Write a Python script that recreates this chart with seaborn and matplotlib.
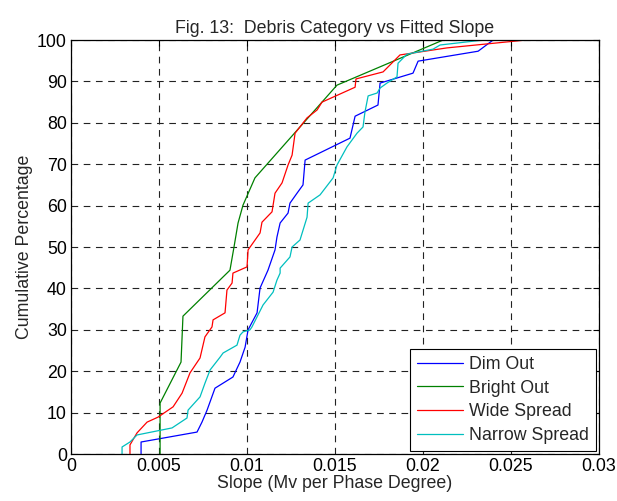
import pandas as pd
import seaborn as sns
import matplotlib
matplotlib.use('Agg')
import matplotlib.pyplot as plt

# curves (slope, cumulative %)
dim_x = [0.00398, 0.00398, 0.00716, 0.00744, 0.00773, 0.00818, 0.00920, 0.00960, 0.00989, 0.01006,
         0.01057, 0.01074, 0.01119, 0.01159, 0.01170, 0.01188, 0.01233, 0.01244, 0.01284, 0.01318,
         0.01330, 0.01585, 0.01614, 0.01744, 0.01756, 0.01943, 0.01972, 0.02313, 0.02398]
dim_y = [0, 2.9, 5.3, 7.7, 10.6, 15.9, 18.6, 22.2, 25.8, 30.0,
         34.1, 40.1, 44.4, 49.3, 52.4, 55.8, 58.2, 60.6, 63.0, 65.0,
         71.0, 76.3, 81.6, 84.3, 89.6, 92.0, 94.9, 97.3, 100]

bright_x = [0.00506, 0.00506, 0.00625, 0.00636, 0.00903, 0.00926, 0.00949, 0.00977, 0.01045, 0.01511, 0.02114]
bright_y = [0, 12.3, 22.2, 33.3, 44.4, 50.0, 55.8, 60.1, 66.7, 89.1, 100]

wide_x = [0.00335, 0.00335, 0.00375, 0.00432, 0.00494, 0.00580, 0.00631, 0.00676, 0.00733, 0.00761,
          0.00801, 0.00807, 0.00875, 0.00886, 0.00915, 0.00920, 0.01000, 0.01006, 0.01074, 0.01085,
          0.01142, 0.01159, 0.01199, 0.01233, 0.01256, 0.01273, 0.01341, 0.01398, 0.01426, 0.01614,
          0.01619, 0.01773, 0.01869, 0.02136, 0.02585]
wide_y = [0, 2.2, 5.1, 7.7, 8.9, 11.4, 14.7, 19.6, 23.2, 28.3,
          30.7, 32.4, 34.1, 39.6, 41.3, 43.7, 45.2, 49.3, 53.4, 56.0,
          58.5, 63.0, 65.5, 69.8, 72.2, 77.5, 81.2, 83.1, 85.0, 88.6,
          90.6, 92.3, 96.4, 98.1, 100]

narrow_x = [0.00290, 0.00290, 0.00335, 0.00375, 0.00574, 0.00659, 0.00665, 0.00733, 0.00761, 0.00790,
            0.00847, 0.00864, 0.00943, 0.00960, 0.00977, 0.01017, 0.01028, 0.01091, 0.01148, 0.01170,
            0.01188, 0.01188, 0.01244, 0.01256, 0.01301, 0.01341, 0.01347, 0.01415, 0.01489, 0.01511,
            0.01568, 0.01625, 0.01659, 0.01670, 0.01688, 0.01739, 0.01756, 0.01795, 0.01852, 0.01858,
            0.01909, 0.02057, 0.02097, 0.02341]
narrow_y = [0, 1.7, 2.9, 4.6, 6.3, 8.7, 10.6, 13.8, 17.1, 20.3,
            23.4, 24.4, 26.3, 28.7, 29.5, 30.0, 30.7, 36.0, 39.1, 42.0,
            43.7, 44.9, 47.6, 50.0, 51.7, 57.2, 60.6, 62.6, 66.7, 69.8,
            74.2, 77.5, 79.0, 82.6, 86.5, 87.2, 88.4, 89.6, 91.1, 94.4,
            96.6, 97.8, 98.8, 100]

categories = ['Dim Out', 'Bright Out', 'Wide Spread', 'Narrow Spread']
colors = ['#0000ff', '#008000', '#ff0000', '#00bfbf']

frames = []
for name, xs, ys in zip(categories, [dim_x, bright_x, wide_x, narrow_x], [dim_y, bright_y, wide_y, narrow_y]):
    frames.append(pd.DataFrame({'slope': xs, 'pct': ys, 'category': name}))
df = pd.concat(frames, ignore_index=True)

sns.set_style('white')
plt.rcParams['font.family'] = ['Liberation Sans', 'DejaVu Sans']
fs = 12.8

fig = plt.figure(figsize=(6.17, 5.01), dpi=100)
ax = fig.add_axes([0.1151, 0.0938, 0.8558, 0.8263])

sns.lineplot(data=df, x='slope', y='pct', hue='category', hue_order=categories,
             palette=colors, sort=False, estimator=None, units='category',
             linewidth=0.9, ax=ax)

ax.set_xlim(0, 0.03)
ax.set_ylim(0, 100)
ax.set_xticks([0, 0.005, 0.01, 0.015, 0.02, 0.025, 0.03])
ax.set_xticklabels(['0', '0.005', '0.01', '0.015', '0.02', '0.025', '0.03'])
ax.set_yticks(range(0, 101, 10))
ax.grid(True, color='#222222', linestyle=(0, (6, 5)), linewidth=0.8)
ax.tick_params(direction='in', top=True, right=True, length=4, width=0.8,
               labelsize=fs, colors='black', pad=3)
for s in ax.spines.values():
    s.set_color('black')
    s.set_linewidth(0.9)

ax.set_title('Fig. 13:  Debris Category vs Fitted Slope', fontsize=fs, pad=5)
ax.set_xlabel('Slope (Mv per Phase Degree)', fontsize=fs, labelpad=0)
ax.set_ylabel('Cumulative Percentage', fontsize=fs, labelpad=3)

leg = ax.legend(loc='lower right', fontsize=fs, fancybox=False, framealpha=1,
                edgecolor='black', borderaxespad=0.15, handlelength=2.6,
                handletextpad=0.35, labelspacing=0.38, borderpad=0.4)
leg.get_frame().set_linewidth(0.8)

fig.savefig('out.png', dpi=100)
